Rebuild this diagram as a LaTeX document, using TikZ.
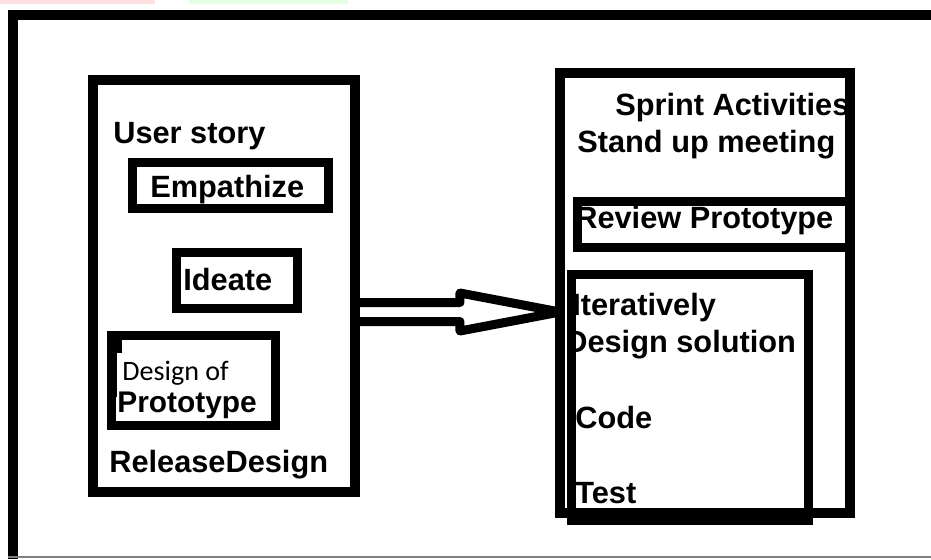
\documentclass[tikz,border=0pt]{standalone}
\usepackage{fontspec}
\setmainfont{Liberation Sans}
\newfontfamily\calibrifont{Carlito}
\usepackage{tikz}
\usetikzlibrary{calc}

\begin{document}
\begin{tikzpicture}[
  x=0.02cm, y=-0.02cm,
  box/.style={draw=black, line width=0.2cm, inner sep=0pt, outer sep=0pt},
  inbox/.style={box, line width=0.18cm},
  lbl/.style={anchor=base west, inner sep=0pt, font=\bfseries\fontsize{17.5}{21}\selectfont},
  thin lbl/.style={lbl, font=\calibrifont\fontsize{16}{19}\selectfont},
  frame/.style={draw=black, line width=0.2cm},
  arrowbody/.style={draw=black, fill=white, line width=0.18cm, line join=round}
]
\useasboundingbox (0,0) rectangle (931,559);

% strip of the page above
\fill[red!12] (0,0) rectangle (155,4);
\fill[green!10] (189,0) rectangle (348,4);

% page frame
\draw[frame] (13,559) -- (13,15) -- (931,15);
\draw[gray, line width=0.04cm] (8,557) -- (931,557);

% texts
\node[lbl] (story) at (113,143) {User story};
\node[lbl] (emptxt) at (150,197) {Empathize};
\node[lbl] (ideatxt) at (183,290) {Ideate};
\node[thin lbl] (desof) at (122,380) {Design of};
\node[lbl, font=\bfseries\fontsize{17}{20}\selectfont] (prototxt) at (117,412) {Prototype};
\node[lbl] (release) at (109,472) {ReleaseDesign};

\node[lbl] (sprint) at (615,115) {Sprint Activities};
\node[lbl] (standup) at (577,152) {Stand up meeting};
\node[lbl] (revtxt) at (575,228) {Review Prototype};
\node[lbl] (iterat) at (572,315) {Iteratively};
\node[lbl] (dessol) at (565,352) {Design solution};
\node[lbl] (code) at (575,428) {Code};
\node[lbl] (test) at (575,503) {Test};

% left column
\node[box, minimum width=5.24cm, minimum height=8.24cm] (lbox) at (224,286) {};
\node[inbox, minimum width=3.92cm, minimum height=0.92cm] (emp) at (230.5,185.5) {};
\node[inbox, minimum width=2.42cm, minimum height=1.12cm] (idea) at (237,280.5) {};
\node[inbox, minimum width=3.28cm, minimum height=1.8cm] (proto) at (193.5,380.5) {};
\node[fill=black, inner sep=0pt, minimum size=0.28cm] (cursor) at (115,346) {};
\draw[black, line width=0.08cm] (cursor.south) -- ++(0,44);

% right column
\node[box, minimum width=5.8cm, minimum height=8.8cm] (rbox) at (705,293) {};
\node[inbox, minimum width=5.46cm, minimum height=0.92cm] (rev) at (714,224.5) {};
\node[inbox, minimum width=4.74cm, minimum height=4.92cm] (iter) at (690,397.5) {};

% hollow arrow
\coordinate (tail) at (lbox.east |- 0,312);
\coordinate (tip) at (rbox.west |- tail);
\draw[arrowbody] ($(tail)+(0,-9.5)$) -- ($(tail)+(105,-9.5)$) -- ($(tail)+(105,-19)$)
  -- (tip) -- ($(tail)+(105,19)$) -- ($(tail)+(105,9.5)$) -- ($(tail)+(0,9.5)$) -- cycle;
\draw[box] (lbox.north east) -- (lbox.south east);

\end{tikzpicture}
\end{document}
